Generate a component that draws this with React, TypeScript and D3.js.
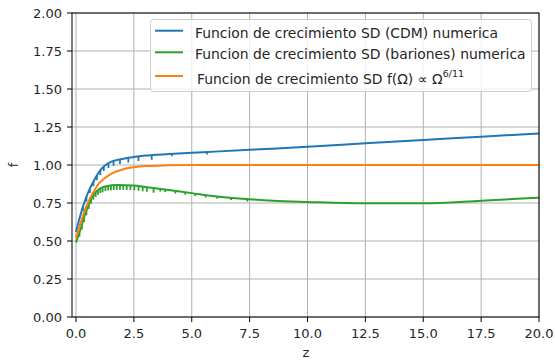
import * as d3 from 'd3';

// values
const cdmZ = [0, 0.1, 0.2, 0.3, 0.4, 0.5, 0.6, 0.7, 0.8, 0.9, 1.0, 1.2, 1.5, 2.0, 2.5, 3.0, 4.0, 5.0, 6.0, 7.5, 10, 12.5, 15, 17.5, 20];
const cdmF = [0.56, 0.62, 0.675, 0.725, 0.77, 0.81, 0.845, 0.875, 0.905, 0.93, 0.955, 0.99, 1.02, 1.04, 1.053, 1.062, 1.072, 1.08, 1.088, 1.1, 1.12, 1.143, 1.165, 1.186, 1.208];
const cdmNotches = [0.3, 0.45, 0.6, 0.75, 0.9, 1.05, 1.2, 1.4, 1.62, 1.9, 2.26, 2.7, 3.27, 4.14, 5.66];

const barZ = [0, 0.1, 0.2, 0.3, 0.4, 0.5, 0.6, 0.7, 0.8, 1.0, 1.3, 1.8, 2.5, 3.0, 4.0, 5.0, 6.0, 7.5, 8.5, 10, 12.5, 15, 17.5, 20];
const barF = [0.49, 0.535, 0.58, 0.63, 0.68, 0.72, 0.76, 0.79, 0.812, 0.842, 0.86, 0.868, 0.865, 0.855, 0.835, 0.815, 0.795, 0.775, 0.765, 0.757, 0.748, 0.748, 0.765, 0.785];
const barNotches = [0.15, 0.25, 0.35, 0.45, 0.55, 0.65, 0.75, 0.85, 0.95, 1.05, 1.15, 1.27, 1.39, 1.51, 1.63, 1.76, 1.9, 2.04, 2.19, 2.35, 2.52, 2.7, 2.88, 3.06, 3.35, 3.64, 3.85, 4.29, 4.72, 5.15, 5.6, 6.1, 6.7, 7.4];

const omZ = [0, 0.1, 0.2, 0.3, 0.4, 0.5, 0.6, 0.75, 1.0, 1.25, 1.5, 2.0, 2.5, 3.0, 4.0, 5.0, 10, 15, 20];
const omF = [0.52, 0.57, 0.62, 0.665, 0.71, 0.745, 0.78, 0.82, 0.88, 0.915, 0.94, 0.97, 0.985, 0.993, 0.998, 1.0, 1.0, 1.0, 1.0];

const xTicks = [0, 2.5, 5, 7.5, 10, 12.5, 15, 17.5, 20];
const yTicks = [0, 0.25, 0.5, 0.75, 1.0, 1.25, 1.5, 1.75, 2.0];

const legendLabels = [
  'Funcion de crecimiento SD (CDM) numerica',
  'Funcion de crecimiento SD (bariones) numerica',
  'Funcion de crecimiento SD f(\u03A9) \u221D \u03A9',
];

const BLUE = '#1f77b4';
const GREEN = '#2ca02c';
const ORANGE = '#ff7f0e';
const FONT = 'DejaVu Sans, sans-serif';

const W = 555;
const H = 362;
const left = 72;
const right = 539;
const top = 13;
const bottom = 317;

const x = d3.scaleLinear().domain([-0.173, 20]).range([left, right]);
const y = d3.scaleLinear().domain([0, 2]).range([bottom, top]);

function path(zs: number[], fs: number[]) {
  return d3
    .line<number>()
    .x((z) => x(z))
    .y((_, i) => y(fs[i]))
    .curve(d3.curveMonotoneX)(zs) as string;
}

// small downward spikes that the numeric curves show (shallower further out)
function notches(zs: number[], fs: number[], at: number[]) {
  const f = d3.scaleLinear().domain(zs).range(fs);
  return at
    .map((z) => {
      const d = z < 3.5 ? 0.03 : 0.016;
      return `M${x(z)},${y(f(z))}V${y(f(z) - d)}`;
    })
    .join('');
}

const series = [
  { z: cdmZ, f: cdmF, notch: cdmNotches, color: BLUE },
  { z: barZ, f: barF, notch: barNotches, color: GREEN },
  { z: omZ, f: omF, notch: [] as number[], color: ORANGE },
];

export default function App() {
  return (
    <svg width={W} height={H} style={{ position: 'absolute', left: 0, top: 0 }} fontFamily={FONT}>
      <rect width={W} height={H} fill="#fff" />
      <defs>
        <clipPath id="plot">
          <rect x={left} y={top} width={right - left} height={bottom - top} />
        </clipPath>
      </defs>
      {/* grid */}
      {xTicks.map((t) => (
        <line key={'gx' + t} x1={x(t)} x2={x(t)} y1={top} y2={bottom} stroke="#b0b0b0" strokeWidth={1} />
      ))}
      {yTicks.map((t) => (
        <line key={'gy' + t} x1={left} x2={right} y1={y(t)} y2={y(t)} stroke="#b0b0b0" strokeWidth={1} />
      ))}
      {/* curves */}
      <g clipPath="url(#plot)" fill="none" strokeWidth={2} strokeLinejoin="round">
        {series.map((s, i) => (
          <g key={i} stroke={s.color}>
            <path d={path(s.z, s.f)} />
            <path d={notches(s.z, s.f, s.notch)} strokeWidth={1.8} />
          </g>
        ))}
      </g>
      {/* spines */}
      <rect x={left} y={top} width={right - left} height={bottom - top} fill="none" stroke="#000" strokeWidth={1} />
      {/* x axis */}
      {xTicks.map((t) => (
        <g key={'xt' + t}>
          <line x1={x(t)} x2={x(t)} y1={bottom} y2={bottom + 5} stroke="#000" />
          <text x={x(t)} y={bottom + 21} textAnchor="middle" fontSize={13} fill="#262626">
            {t.toFixed(1)}
          </text>
        </g>
      ))}
      {/* y axis */}
      {yTicks.map((t) => (
        <g key={'yt' + t}>
          <line x1={left - 5} x2={left} y1={y(t)} y2={y(t)} stroke="#000" />
          <text x={left - 10} y={y(t) + 4.7} textAnchor="end" fontSize={13} fill="#262626">
            {t.toFixed(2)}
          </text>
        </g>
      ))}
      <text x={306} y={357} textAnchor="middle" fontSize={13} fill="#262626">z</text>
      <text transform={`translate(18,${y(1)}) rotate(-90)`} textAnchor="middle" fontSize={13} fill="#262626">f</text>
      {/* legend */}
      <rect x={150.5} y={19.5} width={381} height={72} rx={3} fill="#fff" fillOpacity={0.8} stroke="#cccccc" />
      {[30.7, 52.3, 76].map((ly, i) => (
        <line key={'lh' + i} x1={155} x2={183} y1={ly} y2={ly} stroke={series[i].color} strokeWidth={2} />
      ))}
      <text x={195} y={37.5} fontSize={13.9} fill="#262626">{legendLabels[0]}</text>
      <text x={195} y={58.5} fontSize={13.9} fill="#262626">{legendLabels[1]}</text>
      <text x={197} y={84} fontSize={13.9} fill="#262626">
        {legendLabels[2]}
        <tspan fontSize={9.5} dy={-7}>6/11</tspan>
      </text>
    </svg>
  );
}
